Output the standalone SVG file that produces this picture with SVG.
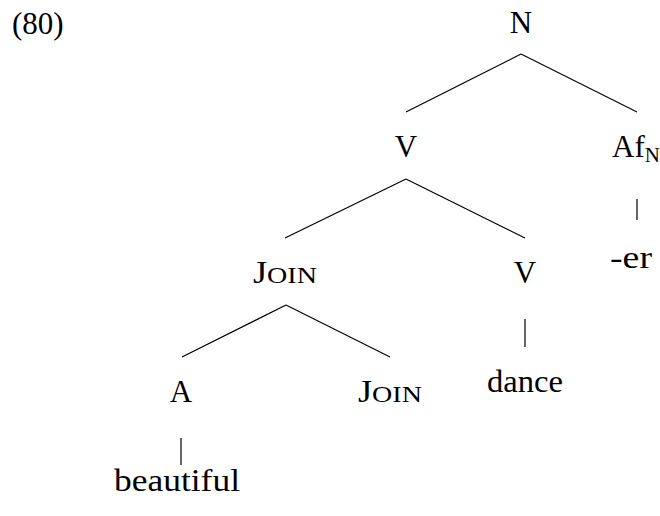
<svg xmlns="http://www.w3.org/2000/svg" width="660" height="516" viewBox="0 0 660 516">
<defs>
<style>
line{stroke:#000;stroke-width:1.2}
</style>
</defs>
<rect width="660" height="516" fill="#fff"/>
<text x="12" y="34" font-family="Liberation Serif" font-size="31">(80)</text>
<g id="connectors" stroke="#000" stroke-width="1.2">
<line x1="521" y1="54" x2="406" y2="112"/>
<line x1="521" y1="54" x2="637" y2="112"/>
<line x1="406" y1="179" x2="285" y2="238"/>
<line x1="406" y1="179" x2="525" y2="238"/>
<line x1="637" y1="199" x2="637" y2="220"/>
<line x1="286" y1="305" x2="182" y2="357"/>
<line x1="286" y1="305" x2="390" y2="357"/>
<line x1="525" y1="319" x2="525" y2="347"/>
<line x1="181" y1="438" x2="181" y2="465"/>
</g>
<g id="n-N"><text x="521" y="33" font-family="Liberation Serif" font-size="31" text-anchor="middle">N</text></g>
<g id="n-V1"><text x="406" y="157" font-family="Liberation Serif" font-size="31" text-anchor="middle">V</text></g>
<g id="n-AfN"><text x="612" y="157" font-family="Liberation Serif" font-size="31">Af<tspan font-size="21" dy="5">N</tspan></text></g>
<g id="n-er"><text x="631" y="268" font-family="Liberation Serif" font-size="31" text-anchor="middle" textLength="42" lengthAdjust="spacingAndGlyphs">-er</text></g>
<g id="n-Join1"><text x="285" y="283" font-family="Liberation Serif" font-size="31" text-anchor="middle" textLength="64" lengthAdjust="spacingAndGlyphs">J<tspan font-size="24">OIN</tspan></text></g>
<g id="n-V2"><text x="525" y="283" font-family="Liberation Serif" font-size="31" text-anchor="middle">V</text></g>
<g id="n-A"><text x="181" y="402" font-family="Liberation Serif" font-size="31" text-anchor="middle">A</text></g>
<g id="n-Join2"><text x="390" y="402" font-family="Liberation Serif" font-size="31" text-anchor="middle" textLength="64" lengthAdjust="spacingAndGlyphs">J<tspan font-size="24">OIN</tspan></text></g>
<g id="n-dance"><text x="525" y="392" font-family="Liberation Serif" font-size="31" text-anchor="middle" textLength="76" lengthAdjust="spacingAndGlyphs">dance</text></g>
<g id="n-beautiful"><text x="177" y="491" font-family="Liberation Serif" font-size="31" text-anchor="middle" textLength="126" lengthAdjust="spacingAndGlyphs">beautiful</text></g>
</svg>
